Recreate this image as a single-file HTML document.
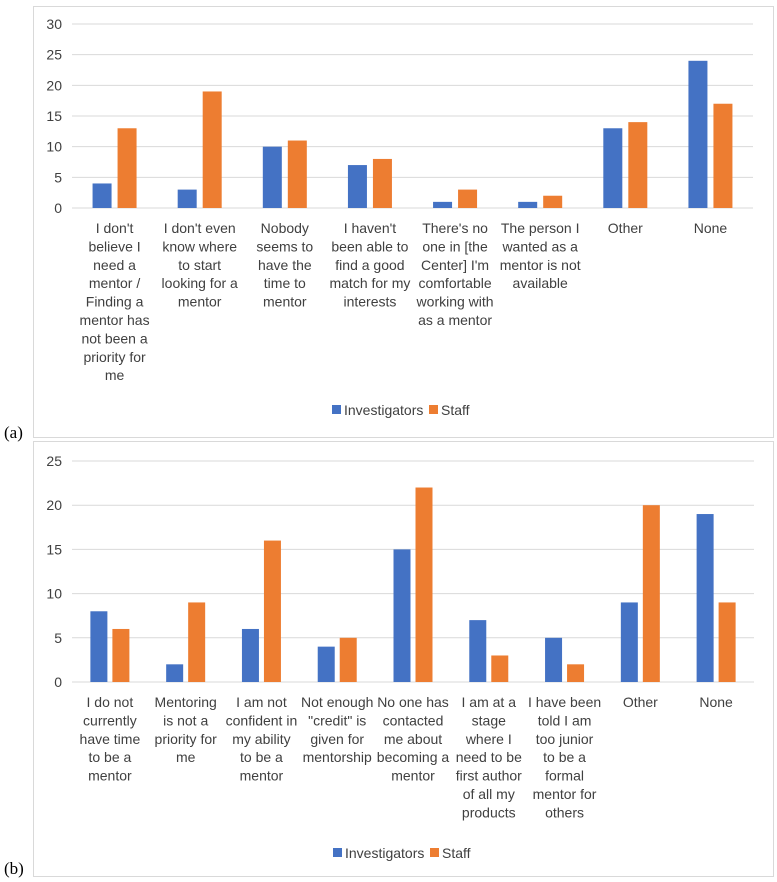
<!DOCTYPE html>
<html><head><meta charset="utf-8">
<style>
html,body{margin:0;padding:0;background:#fff;}
svg{display:block;font-family:"Liberation Sans",Arial,sans-serif;}
</style></head>
<body>
<svg id="svg" width="777" height="882" viewBox="0 0 777 882">
<rect x="33.5" y="6.5" width="740" height="431" fill="#fff" stroke="#d9d9d9"/>
<rect x="33.5" y="441.5" width="740" height="435" fill="#fff" stroke="#d9d9d9"/>
<text x="4" y="438" font-family="Liberation Serif,serif" font-size="17" fill="#000">(a)</text>
<text x="4" y="874" font-family="Liberation Serif,serif" font-size="17" fill="#000">(b)</text>
</svg>
<script>
const catsA = [
 ["I don't","believe I","need a","mentor /","Finding a","mentor has","not been a","priority for","me"],
 ["I don't even","know where","to start","looking for a","mentor"],
 ["Nobody","seems to","have the","time to","mentor"],
 ["I haven't","been able to","find a good","match for my","interests"],
 ["There's no","one in [the","Center] I'm","comfortable","working with","as a mentor"],
 ["The person I","wanted as a","mentor is not","available"],
 ["Other"],["None"]];
const invA = [4,3,10,7,1,1,13,24];
const staffA = [13,19,11,8,3,2,14,17];
const ticksA = [0,5,10,15,20,25,30];

const catsB = [
 ["I do not","currently","have time","to be a","mentor"],
 ["Mentoring","is not a","priority for","me"],
 ["I am not","confident in","my ability","to be a","mentor"],
 ["Not enough","\"credit\" is","given for","mentorship"],
 ["No one has","contacted","me about","becoming a","mentor"],
 ["I am at a","stage","where I","need to be","first author","of all my","products"],
 ["I have been","told I am","too junior","to be a","formal","mentor for","others"],
 ["Other"],["None"]];
const invB = [8,2,6,4,15,7,5,9,19];
const staffB = [6,9,16,5,22,3,2,20,9];
const ticksB = [0,5,10,15,20,25];

const NS="http://www.w3.org/2000/svg";
const svg=document.getElementById('svg');
function mk(tag,attrs,parent){const e=document.createElementNS(NS,tag);for(const k in attrs)e.setAttribute(k,attrs[k]);(parent||svg).appendChild(e);return e;}

function chart(id,cats,inv,staff,ticks,cfg){
  const g=mk('g',{});
  
  
  const max=ticks[ticks.length-1];
  const y=v=>cfg.y0-(v/max)*(cfg.y0-cfg.yTop);
  const step=(cfg.x1-cfg.x0)/cats.length;
  const cx=i=>cfg.x0+step*(i+0.5);
  ticks.forEach(t=>{
    const l=mk('line',{x1:cfg.x0,x2:cfg.x1,y1:y(t),y2:y(t),stroke:'#d9d9d9','stroke-width':1},g);
    
    
    const tx=mk('text',{x:62,y:y(t)+5,'text-anchor':'end','font-size':14,fill:'#404040'},g);
    tx.textContent=t;
    
    
  });
  cats.forEach((c,i)=>{
    const bw=cfg.bw,gap=cfg.gap;
    const b1=mk('rect',{x:cx(i)-gap/2-bw,y:y(inv[i]),width:bw,height:y(0)-y(inv[i]),fill:'#4472c4'},g);
    
    
    const b2=mk('rect',{x:cx(i)+gap/2,y:y(staff[i]),width:bw,height:y(0)-y(staff[i]),fill:'#ed7d31'},g);
    
    
    const t=mk('text',{'text-anchor':'middle','font-size':14,fill:'#404040'},g);
    
    
    c.forEach((line,k)=>{const s=mk('tspan',{x:cx(i),y:cfg.labelY+k*18.4},t);s.textContent=line;});
  });
  const lg=mk('g',{},g);
  
  
  const items=[['Investigators','#4472c4',cfg.legX],['Staff','#ed7d31',cfg.legX+97]];
  items.forEach(([n,col,x])=>{
    const e=mk('g',{},lg);
    
    
    mk('rect',{x:x,y:cfg.legY-10,width:9,height:9,fill:col},e);
    const tx=mk('text',{x:x+12,y:cfg.legY,'font-size':14,fill:'#404040'},e);
    tx.textContent=n;
  });
}
chart('chart-a',catsA,invA,staffA,ticksA,{x0:72,x1:753,y0:208,yTop:24,bw:19,gap:6,labelY:233,legX:332,legY:415});
chart('chart-b',catsB,invB,staffB,ticksB,{x0:72,x1:754,y0:682,yTop:461,bw:17,gap:5,labelY:707,legX:333,legY:858});
</script>
</body></html>
